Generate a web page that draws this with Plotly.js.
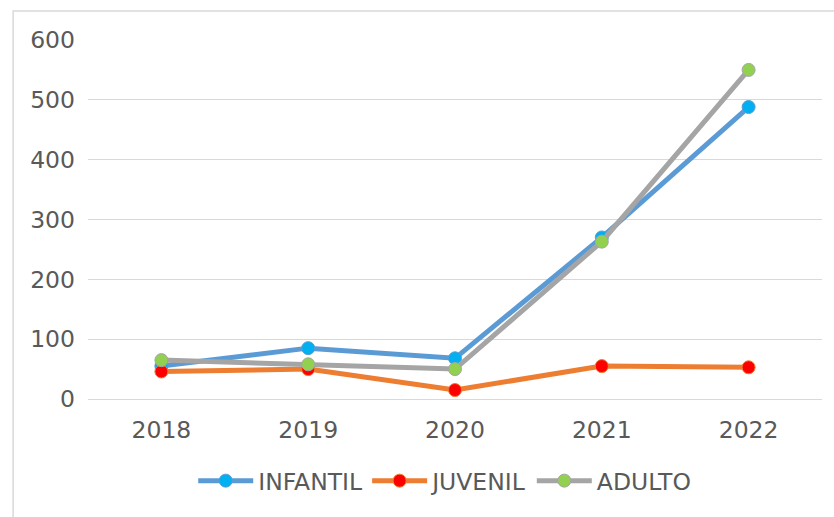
<!DOCTYPE html>
<html>
<head>
<meta charset="utf-8">
<script src="https://cdn.plot.ly/plotly-3.0.1.min.js"></script>
<style>html,body{margin:0;padding:0;background:#fff;}#chart{width:834px;height:517px;}</style>
</head>
<body>
<div id="chart"></div>
<script>
const years = ["2018", "2019", "2020", "2021", "2022"];
const infantil = [55, 85, 68, 270, 488];
const juvenil = [46, 50, 15, 55, 53];
const adulto = [65, 58, 50, 263, 550];
const yTicks = [0, 100, 200, 300, 400, 500, 600];

function tr(name, y, lineColor, markerColor) {
  return {
    x: years, y: y, name: name, type: "scatter", mode: "lines+markers",
    line: {color: lineColor, width: 5},
    marker: {color: markerColor, size: 13, line: {color: lineColor, width: 1}}
  };
}
const data = [
  tr("INFANTIL", infantil, "#5B9BD5", "#00B0F0"),
  tr("JUVENIL", juvenil, "#ED7D31", "#FF0000"),
  tr("ADULTO", adulto, "#A5A5A5", "#92D050")
];
const layout = {
  width: 834, height: 517,
  margin: {l: 88, r: 12, t: 40, b: 118},
  paper_bgcolor: "#fff", plot_bgcolor: "#fff",
  font: {family: "DejaVu Sans", size: 23.5, color: "#595959"},
  xaxis: {type: "category", range: [-0.5, 4.5], showgrid: false, zeroline: false, showline: true,
          linecolor: "#D9D9D9", linewidth: 1, ticks: "", ticklen: 0, ticklabelstandoff: 10,
          tickfont: {size: 23.5, color: "#595959"}},
  yaxis: {range: [0, 600], tickvals: yTicks, ticktext: yTicks.map(String),
          showgrid: true, gridcolor: "#D9D9D9", gridwidth: 1.3, zeroline: false,
          showline: false, ticks: "", ticklabelstandoff: 12, tickfont: {size: 23.5, color: "#595959"}},
  showlegend: true,
  legend: {orientation: "h", x: 0.486, xanchor: "center", y: -0.228, yanchor: "middle",
           font: {size: 23.5, color: "#595959"}, itemwidth: 55, tracegroupgap: 0},
  shapes: [{type: "rect", xref: "paper", yref: "paper",
            x0: -0.102, x1: 1.03, y0: -0.34, y1: 1.081,
            line: {color: "#D9D9D9", width: 1.5}, fillcolor: "rgba(0,0,0,0)", layer: "below"}]
};
Plotly.newPlot("chart", data, layout, {displayModeBar: false, staticPlot: true});
</script>
</body>
</html>
